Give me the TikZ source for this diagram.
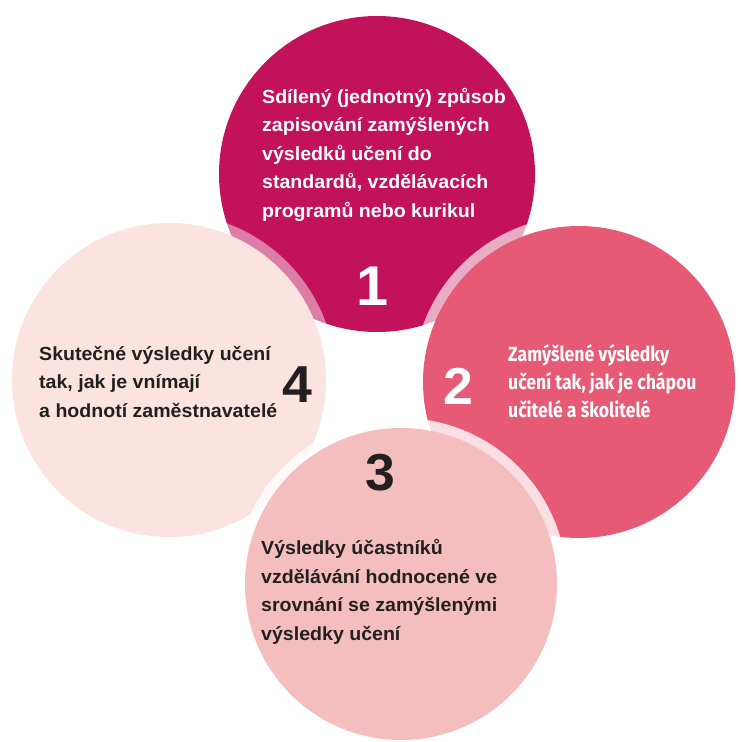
\documentclass[tikz,border=0pt]{standalone}
\usepackage{fontspec}
\setmainfont[FakeStretch=1.03]{Liberation Sans}
\newfontfamily\narrowfont[FakeStretch=0.86]{Fira Sans}
\usetikzlibrary{positioning}

\definecolor{plum}{HTML}{C2125A}
\definecolor{rose}{HTML}{E65A75}
\definecolor{blush}{HTML}{F5BEBE}
\definecolor{shell}{HTML}{FBE4E0}
\definecolor{ink}{HTML}{231F20}

\tikzset{
  ball/.style={circle,inner sep=0pt,minimum size=#1},
  halo/.style={fill=white,fill opacity=#1},
  blurb/.style={align=left,inner sep=0pt,anchor=base west,
    font=\bfseries\fontsize{19}{28.5}\selectfont},
  digit/.style={inner sep=0pt,anchor=base,font=\bfseries\fontsize{52}{52}\selectfont}
}

\begin{document}
\begin{tikzpicture}[x=1pt,y=-1pt]
\useasboundingbox (0,0) rectangle (740,742);

% first circle, at the bottom of the pile
\node[ball=316pt,fill=plum] (c1) at (377,174) {};

% second one lies over the first
\fill[halo=0.65] (579,382) circle (166);
\node[ball=312pt,fill=rose] (c2) at (579,382) {};

% fourth one lies over the first
\fill[halo=0.45] (169,380) circle (167);
\node[ball=314pt,fill=shell] (c4) at (169,380) {};

% third one on top
\fill[halo=0.8] (401,584) circle (166);
\node[ball=312pt,fill=blush] (c3) at (401,584) {};

% texts (base = last line)
\node[blurb,text=white] (t1) at (262,217)
  {Sdílený (jednotný) způsob\\zapisování zamýšlených\\výsledků učení do\\standardů, vzdělávacích\\programů nebo kurikul};
\node[digit,text=white,font=\bfseries\fontsize{56}{56}\selectfont] (n1) at (373,305) {1};

\node[blurb,text=white,font=\narrowfont\bfseries\fontsize{20.5}{28}\selectfont] (t2) at (508,417)
  {Zamýšlené výsledky\\učení tak, jak je chápou\\učitelé a školitelé};
\node[digit,text=white] (n2) at (458,404) {2};

\node[digit,text=ink] (n3) at (380,490) {3};
\node[blurb,text=ink] (t3) at (261,640)
  {Výsledky účastníků\\vzdělávání hodnocené ve\\srovnání se zamýšlenými\\výsledky učení};

\node[blurb,text=ink] (t4) at (39,417)
  {Skutečné výsledky učení\\tak, jak je vnímají\\a hodnotí zaměstnavatelé};
\node[digit,text=ink] (n4) at (297,402) {4};
\end{tikzpicture}
\end{document}
